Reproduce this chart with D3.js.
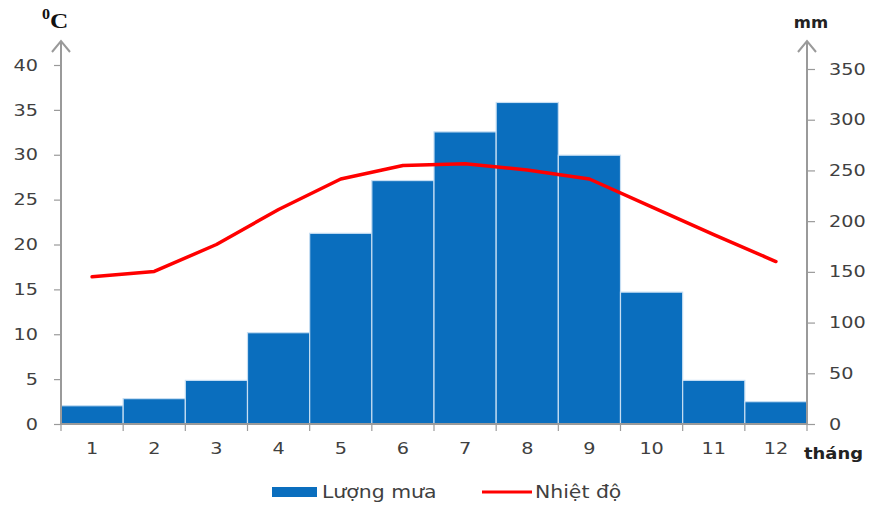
<!DOCTYPE html>
<html>
<head>
<meta charset="utf-8">
<script src="https://cdn.jsdelivr.net/npm/d3@7"></script>
<style>
  body { margin: 0; background: #fff; }
  svg text { font-family: "DejaVu Sans", sans-serif; fill: #404040; }
</style>
</head>
<body>
<div id="chart"></div>
<script>
"use strict"

// Climate chart: rainfall bars (right axis) + temperature line (left axis)

var months = ["1", "2", "3", "4", "5", "6", "7", "8", "9", "10", "11", "12"]
var rain = [18, 25, 43, 90, 188, 240, 288, 317, 265, 130, 43, 22]
var temp = [16.4, 17.0, 20.0, 23.9, 27.3, 28.8, 29.0, 28.3, 27.3, 24.2, 21.1, 18.1]
var tempTicks = [0, 5, 10, 15, 20, 25, 30, 35, 40]
var rainTicks = [0, 50, 100, 150, 200, 250, 300, 350]

var width = 873
var height = 507
var left = 61
var right = 807
var base = 424
var axisTop = 41
var grey = "#9a9a9a"

var x = d3.scaleBand()
  .domain(months)
  .range([left, right])
  .padding(0)

var yT = d3.scaleLinear()
  .domain([0, 40])
  .range([base, 65])

var yR = d3.scaleLinear()
  .domain([0, 350])
  .range([base, 69])

var svg = d3.select("#chart").append("svg")
  .attr("width", width)
  .attr("height", height)

// stretch text horizontally (the original is rendered wide)
function stretch(sel, k) {
  sel.each(function() {
    var w = this.getComputedTextLength()
    d3.select(this)
      .attr("textLength", w * k)
      .attr("lengthAdjust", "spacingAndGlyphs")
  })
}

// bars
svg.append("g")
  .selectAll("rect")
  .data(rain)
  .enter().append("rect")
    .attr("x", function(d, i) { return x(months[i]) })
    .attr("y", function(d) { return yR(d) })
    .attr("width", x.bandwidth())
    .attr("height", function(d) { return base - yR(d) })
    .attr("fill", "#0a6ebe")
    .attr("stroke", "#c6def3")
    .attr("stroke-width", 1.2)

// temperature line
var line = d3.line()
  .x(function(d, i) { return x(months[i]) + x.bandwidth() / 2 })
  .y(function(d) { return yT(d) })

svg.append("path")
  .datum(temp)
  .attr("d", line)
  .attr("fill", "none")
  .attr("stroke", "#ff0000")
  .attr("stroke-width", 3.5)
  .attr("stroke-linecap", "round")
  .attr("stroke-linejoin", "round")

// left axis
var axL = svg.append("g")
  .attr("transform", "translate(" + left + ",0)")
  .call(d3.axisLeft(yT).tickValues(tempTicks).tickSize(7).tickPadding(16))
axL.select(".domain").remove()
axL.selectAll("line").attr("stroke", grey).attr("stroke-width", 1.2)
axL.selectAll("text")
  .style("font-size", "16px")
  .attr("fill", "#404040")
  .call(stretch, 1.2)

// right axis
var axR = svg.append("g")
  .attr("transform", "translate(" + right + ",0)")
  .call(d3.axisRight(yR).tickValues(rainTicks).tickSize(8).tickPadding(14))
axR.select(".domain").remove()
axR.selectAll("line").attr("stroke", grey).attr("stroke-width", 1.2)
axR.selectAll("text")
  .style("font-size", "16px")
  .attr("fill", "#404040")
  .call(stretch, 1.2)

// x axis labels
var axB = svg.append("g")
  .attr("transform", "translate(0," + base + ")")
  .call(d3.axisBottom(x).tickSize(0).tickPadding(19))
axB.select(".domain").remove()
axB.selectAll("text")
  .style("font-size", "16px")
  .attr("fill", "#404040")
  .call(stretch, 1.2)

// x ticks at band edges
svg.append("g")
  .selectAll("line")
  .data(months.map(function(m) { return x(m) }).concat([right]))
  .enter().append("line")
    .attr("x1", function(d) { return d })
    .attr("x2", function(d) { return d })
    .attr("y1", base)
    .attr("y2", base + 7)
    .attr("stroke", grey)
    .attr("stroke-width", 1.2)

// axis lines with arrows
var axes = svg.append("g")
  .attr("stroke", grey)
  .attr("stroke-width", 2)
  .attr("fill", "none")

axes.append("line")
  .attr("x1", left).attr("x2", right)
  .attr("y1", base).attr("y2", base)

;[left, right].forEach(function(ax) {
  axes.append("line")
    .attr("x1", ax).attr("x2", ax)
    .attr("y1", base).attr("y2", axisTop)
  axes.append("path")
    .attr("d", "M" + (ax - 9) + "," + (axisTop + 11) +
      "L" + ax + "," + axisTop + "L" + (ax + 9) + "," + (axisTop + 11))
})

// units
var unitC = svg.append("text")
  .attr("x", 42)
  .attr("y", 28)
  .style("font-family", "'Liberation Serif', serif")
  .style("font-weight", "bold")
  .style("fill", "#111")
unitC.append("tspan")
  .attr("dy", -9)
  .style("font-size", "14px")
  .text("0")
unitC.append("tspan")
  .attr("dy", 9)
  .style("font-size", "22px")
  .text("C")
unitC.call(stretch, 1.15)

svg.append("text")
  .attr("x", 811)
  .attr("y", 28)
  .attr("text-anchor", "middle")
  .style("font-size", "15px")
  .style("font-weight", "bold")
  .style("fill", "#222")
  .text("mm")
  .call(stretch, 1.1)

svg.append("text")
  .attr("x", 804)
  .attr("y", 459)
  .style("font-size", "16px")
  .style("font-weight", "bold")
  .style("fill", "#222")
  .text("tháng")
  .call(stretch, 1.12)

// legend
var legend = svg.append("g")
legend.append("rect")
  .attr("x", 272).attr("y", 487)
  .attr("width", 45).attr("height", 10)
  .attr("fill", "#0a6ebe")
legend.append("text")
  .attr("x", 322).attr("y", 498)
  .style("font-size", "17px")
  .text("Lượng mưa")
  .call(stretch, 1.2)
legend.append("line")
  .attr("x1", 482).attr("x2", 532)
  .attr("y1", 492).attr("y2", 492)
  .attr("stroke", "#ff0000")
  .attr("stroke-width", 3)
legend.append("text")
  .attr("x", 535).attr("y", 498)
  .style("font-size", "17px")
  .text("Nhiệt độ")
  .call(stretch, 1.2)
</script>
</body>
</html>
